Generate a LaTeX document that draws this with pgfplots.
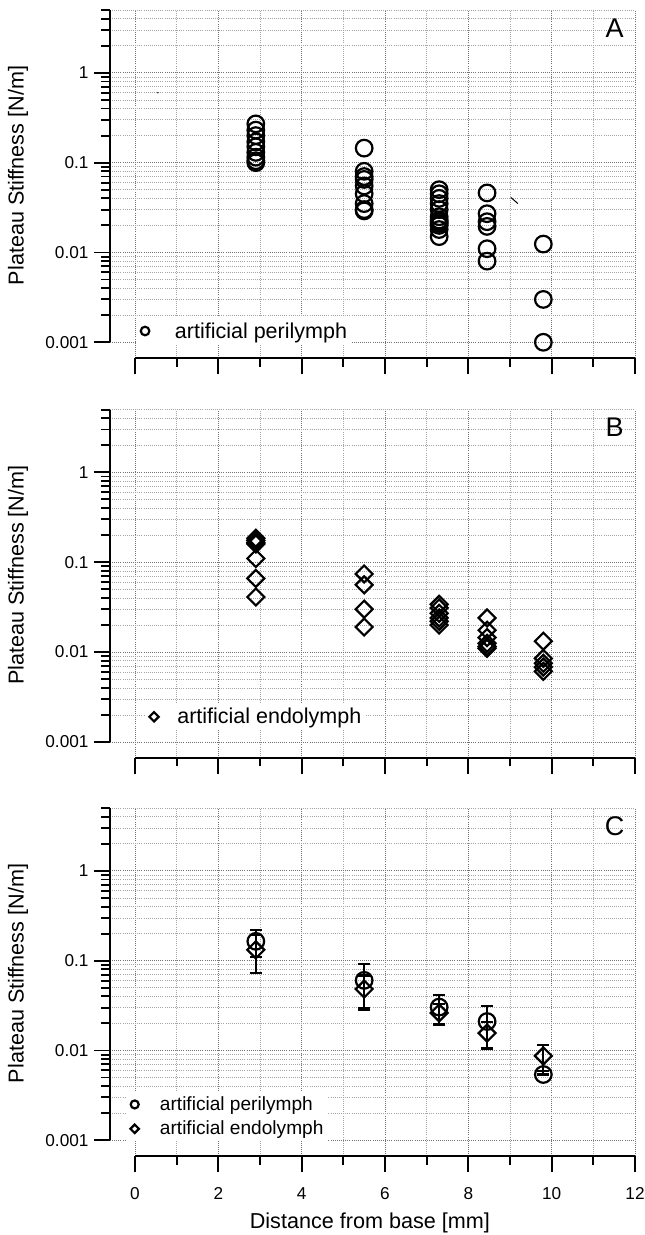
\documentclass[border=0pt]{standalone}
\usepackage{fontspec}
\setmainfont{Liberation Sans}
\usepackage{pgfplots}
\pgfplotsset{compat=1.18}

\newcommand\tickfont{\fontsize{17.2}{20}\selectfont}
\newcommand\labfont{\fontsize{21.6}{25}\selectfont}
\newcommand\legfont{\fontsize{21.5}{25}\selectfont}
\newcommand\legfontC{\fontsize{19.1}{22}\selectfont}
\newcommand\panfont{\fontsize{27}{30}\selectfont}

\tikzset{axisframe/.style={line width=2pt, black}}

\begin{document}
\begin{tikzpicture}
\useasboundingbox (0,0) rectangle (645pt,-1235pt);

% ---- A: artificial perilymph
\begin{axis}[
  scale only axis, width=525pt, height=348.3pt,
  xmin=-0.6, xmax=12, ymode=log, ymin=6.63e-4, ymax=5,
  axis line style={draw=none},
  xtick={0,2,...,12}, minor xtick={1,3,...,11}, xticklabels={},
  ytick={0.001,0.01,0.1,1}, yticklabels={0.001,0.01,0.1,1},
  minor ytick={0.002,0.003,0.004,0.005,0.006,0.007,0.008,0.009,
               0.02,0.03,0.04,0.05,0.06,0.07,0.08,0.09,
               0.2,0.3,0.4,0.5,0.6,0.7,0.8,0.9,2,3,4,5},
  xtick pos=left, ytick pos=left, tick align=outside,
  major tick length=16pt, minor tick length=8.5pt,
  tick style={black, line width=1.9pt},
  grid=both,
  major grid style={black!55, line width=0.65pt, dash pattern=on 0.9pt off 1.2pt},
  minor grid style={black!35, line width=0.55pt, dash pattern=on 0.9pt off 1.2pt},
  tick label style={font=\tickfont}, yticklabel shift=2pt,
  ylabel={Plateau Stiffness [N/m]},
  ylabel style={font=\labfont, at={(axis description cs:-0.175,0.525)}, anchor=center},
  legend style={draw=none, fill=white, inner xsep=4pt, inner ysep=3pt, font=\legfont,
    nodes={inner xsep=0pt},
    at={(axis description cs:0.0506,0.0784)}, anchor=west},
  legend image post style={mark size=4.3pt},
  clip=false,
  at={(110pt,-358.3pt)}, anchor=south west]
\addplot[only marks, mark=o, mark size=8.3pt, mark options={black, line width=2.2pt}] coordinates {
  (2.9,0.27) (2.9,0.23) (2.9,0.20) (2.9,0.17) (2.9,0.15) (2.9,0.13) (2.9,0.115) (2.9,0.105) (2.9,0.10)
  (5.5,0.145) (5.5,0.08) (5.5,0.07) (5.5,0.065) (5.5,0.055) (5.5,0.045) (5.5,0.035) (5.5,0.03) (5.5,0.029)
  (7.3,0.05) (7.3,0.045) (7.3,0.04) (7.3,0.035) (7.3,0.03) (7.3,0.025) (7.3,0.023) (7.3,0.022)
  (7.3,0.021) (7.3,0.02) (7.3,0.018) (7.3,0.015)
  (8.45,0.046) (8.45,0.027) (8.45,0.022) (8.45,0.0195) (8.45,0.011) (8.45,0.008)
  (9.8,0.0124) (9.8,0.003) (9.8,0.001)
};
\addlegendentry{\hspace{25.6pt}artificial perilymph}
\draw[axisframe] (axis cs:-0.6,0.001) -- (axis cs:-0.6,5);
\draw[axisframe] (axis cs:0,6.63e-4) -- (axis cs:12,6.63e-4);
\node[font=\panfont] at (axis description cs:0.961,0.949) {A};
\fill (axis cs:0.55,0.6) circle (0.8pt);
\draw[line width=1pt] (axis cs:9.02,0.041) -- (axis cs:9.19,0.035);
\end{axis}

% ---- B: artificial endolymph
\begin{axis}[
  scale only axis, width=525pt, height=348.3pt,
  xmin=-0.6, xmax=12, ymode=log, ymin=6.63e-4, ymax=5,
  axis line style={draw=none},
  xtick={0,2,...,12}, minor xtick={1,3,...,11}, xticklabels={},
  ytick={0.001,0.01,0.1,1}, yticklabels={0.001,0.01,0.1,1},
  minor ytick={0.002,0.003,0.004,0.005,0.006,0.007,0.008,0.009,
               0.02,0.03,0.04,0.05,0.06,0.07,0.08,0.09,
               0.2,0.3,0.4,0.5,0.6,0.7,0.8,0.9,2,3,4,5},
  xtick pos=left, ytick pos=left, tick align=outside,
  major tick length=16pt, minor tick length=8.5pt,
  tick style={black, line width=1.9pt},
  grid=both,
  major grid style={black!55, line width=0.65pt, dash pattern=on 0.9pt off 1.2pt},
  minor grid style={black!35, line width=0.55pt, dash pattern=on 0.9pt off 1.2pt},
  tick label style={font=\tickfont}, yticklabel shift=2pt,
  ylabel={Plateau Stiffness [N/m]},
  ylabel style={font=\labfont, at={(axis description cs:-0.175,0.525)}, anchor=center},
  legend style={draw=none, fill=white, inner xsep=4pt, inner ysep=3pt, font=\legfont,
    nodes={inner xsep=0pt},
    at={(axis description cs:0.067,0.118)}, anchor=west},
  legend image post style={mark size=3.3pt},
  clip=false,
  at={(110pt,-757.9pt)}, anchor=south west]
\addplot[only marks, mark=square, mark size=6pt, mark options={black, line width=2.2pt, rotate=45}] coordinates {
  (2.9,0.185) (2.9,0.175) (2.9,0.165) (2.9,0.16) (2.9,0.11) (2.9,0.066) (2.9,0.041)
  (5.5,0.074) (5.5,0.056) (5.5,0.030) (5.5,0.019)
  (7.3,0.034) (7.3,0.031) (7.3,0.027) (7.3,0.024) (7.3,0.022) (7.3,0.020)
  (8.45,0.024) (8.45,0.0175) (8.45,0.0145) (8.45,0.0125) (8.45,0.0115) (8.45,0.011)
  (9.8,0.0132) (9.8,0.0085) (9.8,0.0075) (9.8,0.0068) (9.8,0.0061)
};
\addlegendentry{\hspace{18.6pt}artificial endolymph}
\draw[axisframe] (axis cs:-0.6,0.001) -- (axis cs:-0.6,5);
\draw[axisframe] (axis cs:0,6.63e-4) -- (axis cs:12,6.63e-4);
\node[font=\panfont] at (axis description cs:0.961,0.949) {B};
\end{axis}

% ---- C: means with error bars
\begin{axis}[
  scale only axis, width=525pt, height=348.3pt,
  xmin=-0.6, xmax=12, ymode=log, ymin=6.63e-4, ymax=5,
  axis line style={draw=none},
  xtick={0,2,...,12}, minor xtick={1,3,...,11},
  ytick={0.001,0.01,0.1,1}, yticklabels={0.001,0.01,0.1,1},
  minor ytick={0.002,0.003,0.004,0.005,0.006,0.007,0.008,0.009,
               0.02,0.03,0.04,0.05,0.06,0.07,0.08,0.09,
               0.2,0.3,0.4,0.5,0.6,0.7,0.8,0.9,2,3,4,5},
  xtick pos=left, ytick pos=left, tick align=outside,
  major tick length=16pt, minor tick length=8.5pt,
  tick style={black, line width=1.9pt},
  grid=both,
  major grid style={black!55, line width=0.65pt, dash pattern=on 0.9pt off 1.2pt},
  minor grid style={black!35, line width=0.55pt, dash pattern=on 0.9pt off 1.2pt},
  tick label style={font=\tickfont}, yticklabel shift=2pt,
  xticklabel style={/pgf/number format/assume math mode=true}, xticklabel shift=12pt,
  ylabel={Plateau Stiffness [N/m]},
  ylabel style={font=\labfont, at={(axis description cs:-0.175,0.525)}, anchor=center},
  xlabel={Distance from base [mm]},
  xlabel style={font=\labfont, at={(axis description cs:0.495,-0.191)}, anchor=center},
  legend style={draw=none, fill=white, inner xsep=4pt, inner ysep=3pt, font=\legfontC,
    nodes={inner xsep=0pt}, row sep=5pt,
    at={(axis description cs:0.031,0.114)}, anchor=west, cells={anchor=west}},
  clip=false,
  at={(110pt,-1156.3pt)}, anchor=south west]
\addplot[only marks, mark=o, mark size=8.3pt, mark options={black, line width=2.2pt},
  legend image post style={mark size=4pt},
  error bars/.cd, y dir=both, y explicit,
  error bar style={line width=2.2pt, black},
  error mark options={black, line width=2.2pt, mark size=6pt, rotate=90}] coordinates {
  (2.9,0.164) +- (0,0.054)
  (5.5,0.0603) +- (0,0.031)
  (7.3,0.0304) +- (0,0.0113)
  (8.45,0.021) +- (0,0.0105)
  (9.8,0.0054) += (0,0.0060) -= (0,0)
};
\addlegendentry{\hspace{21pt}artificial perilymph}
\addplot[only marks, mark=square, mark size=6pt, mark options={black, line width=2.2pt, rotate=45},
  legend image post style={mark size=3pt},
  error bars/.cd, y dir=both, y explicit,
  error bar style={line width=2.2pt, black},
  error mark options={black, line width=2.2pt, mark size=6pt, rotate=90}] coordinates {
  (2.9,0.132) +- (0,0.059)
  (5.5,0.0483) +- (0,0.020)
  (7.3,0.0262) +- (0,0.0064)
  (8.45,0.0156) +- (0,0.0052)
  (9.8,0.0087) +- (0,0.0028)
};
\addlegendentry{\hspace{21pt}artificial endolymph}
\draw[axisframe] (axis cs:-0.6,0.001) -- (axis cs:-0.6,5);
\draw[axisframe] (axis cs:0,6.63e-4) -- (axis cs:12,6.63e-4);
\node[font=\panfont] at (axis description cs:0.961,0.949) {C};
\end{axis}
\end{tikzpicture}
\end{document}
